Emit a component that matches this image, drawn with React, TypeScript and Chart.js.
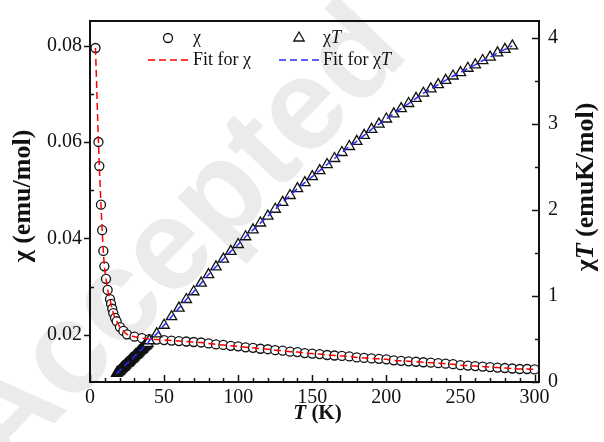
import React, { useEffect, useRef } from "react";
import { Chart, registerables } from "chart.js";
Chart.register(...registerables);

// ---------- data ----------
const chiTemps = [3.7, 5.7, 6.3, 7.4, 8.2, 9.0, 9.7, 10.8, 11.9, 13.5, 14.2, 15.0, 15.7, 16.9, 18.0, 20.2, 22.5,
  25, 30, 35, 40, 45, 50, 55, 60, 65, 70, 75, 80, 85, 90, 95, 100, 105, 110, 115, 120, 125, 130, 135, 140, 145,
  150, 155, 160, 165, 170, 175, 180, 185, 190, 195, 200, 205, 210, 215, 220, 225, 230, 235, 240, 245, 250, 255,
  260, 265, 270, 275, 280, 285, 290, 295, 300];
const chiValues = [0.0795, 0.0600, 0.0550, 0.0470, 0.0417, 0.0374, 0.0342, 0.0316, 0.0293, 0.0274, 0.0264, 0.0254,
  0.0245, 0.0235, 0.0228, 0.0216, 0.0208,
  0.0201, 0.0196, 0.0193, 0.0191, 0.0190, 0.0189, 0.0188, 0.0187, 0.0186, 0.0185, 0.0184, 0.0182, 0.0180, 0.0179,
  0.0177, 0.0176, 0.0174, 0.0173, 0.0171, 0.0170, 0.0168, 0.0167, 0.0165, 0.0164, 0.0162, 0.0161, 0.0160, 0.0158,
  0.0157, 0.0156, 0.0155, 0.0153, 0.0152, 0.0151, 0.0150, 0.0149, 0.0147, 0.0146, 0.0145, 0.0144, 0.0143, 0.0142,
  0.0141, 0.0140, 0.0139, 0.0137, 0.0136, 0.0135, 0.0134, 0.0133, 0.0132, 0.0131, 0.0130, 0.0129, 0.0129, 0.0128];

const chiTTemps = [18, 18.5, 19, 19.5, 20, 20.5, 21, 21.5, 22, 22.5, 23, 23.5, 24, 24.5, 25, 25.5, 26, 26.5, 27,
  27.5, 28, 28.5, 29, 29.5, 30, 30.5, 31, 31.5, 32, 32.5, 33, 33.5, 34, 34.5, 35, 35.5, 36, 36.5, 37, 37.5, 38,
  38.5, 39,
  40, 45, 50, 55, 60, 65, 70, 75, 80, 85, 90, 95, 100, 105, 110, 115, 120, 125, 130, 135, 140, 145, 150, 155, 160,
  165, 170, 175, 180, 185, 190, 195, 200, 205, 210, 215, 220, 225, 230, 235, 240, 245, 250, 255, 260, 265, 270,
  275, 280, 285];
const chiTValues = [0.10, 0.11, 0.12, 0.12, 0.13, 0.14, 0.15, 0.16, 0.17, 0.17, 0.18, 0.19, 0.20, 0.21, 0.22, 0.22,
  0.23, 0.24, 0.25, 0.26, 0.27, 0.27, 0.28, 0.29, 0.30, 0.31, 0.32, 0.32, 0.33, 0.34, 0.35, 0.36, 0.37, 0.37, 0.38,
  0.39, 0.40, 0.41, 0.42, 0.42, 0.43, 0.44, 0.45,
  0.48, 0.56, 0.66, 0.76, 0.86, 0.96, 1.05, 1.15, 1.25, 1.34, 1.43, 1.52, 1.60, 1.69, 1.77, 1.85, 1.93, 2.01, 2.09,
  2.17, 2.25, 2.32, 2.39, 2.46, 2.53, 2.60, 2.67, 2.74, 2.80, 2.87, 2.94, 3.00, 3.06, 3.12, 3.18, 3.24, 3.30, 3.36,
  3.41, 3.46, 3.51, 3.56, 3.60, 3.65, 3.69, 3.74, 3.78, 3.83, 3.87, 3.91];

const xTicks = [0, 50, 100, 150, 200, 250, 300];
const leftTicks = [0.02, 0.04, 0.06, 0.08];
const rightTicks = [0, 1, 2, 3, 4];

const X_MIN = 0, X_MAX = 303;
const L_MIN = 0.0102, L_MAX = 0.0851;
const R_MIN = 0, R_MAX = 4.2;

// ---------- styles ----------
const SERIF = "'Liberation Serif', 'Times New Roman', 'DejaVu Serif', serif";
const INK = "#111111";
const RED = "#ff0000";
const BLUE = "#2b2bff";

type Run = { text: string; italic?: boolean; bold?: boolean };

function drawRuns(ctx: CanvasRenderingContext2D, runs: Run[], x: number, y: number, align: "left" | "center", size: number) {
  const fonts = runs.map((r) => `${r.italic ? "italic " : "normal "}${r.bold ? "bold " : "normal "}${size}px ${SERIF}`);
  const widths = runs.map((r, i) => {
    ctx.font = fonts[i];
    return ctx.measureText(r.text).width;
  });
  const total = widths.reduce((a, b) => a + b, 0);
  let cx = align === "center" ? x - total / 2 : x;
  ctx.textAlign = "left";
  ctx.textBaseline = "middle";
  runs.forEach((r, i) => {
    ctx.font = fonts[i];
    ctx.fillText(r.text, cx, y);
    cx += widths[i];
  });
}

function triPath(ctx: CanvasRenderingContext2D, x: number, y: number, r: number) {
  ctx.beginPath();
  let a = 0;
  for (let i = 0; i < 3; i++) {
    const px = x + Math.sin(a) * r;
    const py = y - Math.cos(a) * r;
    if (i === 0) ctx.moveTo(px, py);
    else ctx.lineTo(px, py);
    a += (2 * Math.PI) / 3;
  }
  ctx.closePath();
}

const decorPlugin = {
  id: "decor",
  beforeDraw(chart: any) {
    const { ctx, width, height } = chart;
    ctx.save();
    ctx.fillStyle = "#ffffff";
    ctx.fillRect(0, 0, width, height);
    // watermark
    ctx.translate(182, 240);
    ctx.rotate((-46 * Math.PI) / 180);
    ctx.fillStyle = "#ebebeb";
    ctx.font = "bold 130px 'Liberation Sans', Arial, sans-serif";
    ctx.textAlign = "center";
    ctx.textBaseline = "middle";
    ctx.fillText("Accepted", 0, 0);
    ctx.restore();
  },
  afterDraw(chart: any) {
    const { ctx, chartArea } = chart;
    const { left, right, top, bottom } = chartArea;
    const xs = chart.scales.x;
    const yl = chart.scales.y;
    const yr = chart.scales.y1;
    ctx.save();
    ctx.strokeStyle = INK;
    ctx.fillStyle = INK;

    // ticks
    ctx.lineWidth = 1.5;
    ctx.beginPath();
    for (let v = 0; v <= 300; v += 10) {
      const p = Math.round(xs.getPixelForValue(v)) + 0.5;
      const len = v % 50 === 0 ? 7 : 4;
      ctx.moveTo(p, bottom);
      ctx.lineTo(p, bottom - len);
    }
    for (let k = 1; k <= 8; k++) {
      const v = k / 100;
      if (v < L_MIN || v > L_MAX) continue;
      const p = Math.round(yl.getPixelForValue(v)) + 0.5;
      if (k % 2 === 0) {
        ctx.moveTo(left - 6, p);
        ctx.lineTo(left, p);
      } else {
        ctx.moveTo(left, p);
        ctx.lineTo(left + 4, p);
      }
    }
    for (let k = 0; k <= 8; k++) {
      const v = k / 2;
      const p = Math.round(yr.getPixelForValue(v)) + 0.5;
      const len = k % 2 === 0 ? 7 : 4;
      ctx.moveTo(right, p);
      ctx.lineTo(right - len, p);
    }
    ctx.stroke();

    // frame
    ctx.lineWidth = 2;
    ctx.strokeRect(left, top, right - left, bottom - top);

    // axis titles
    drawRuns(ctx, [{ text: "T", italic: true, bold: true }, { text: " (K)", bold: true }], (left + right) / 2 + 3, 414, "center", 21);
    ctx.save();
    ctx.translate(23, 196);
    ctx.rotate(-Math.PI / 2);
    drawRuns(ctx, [{ text: "\u03c7 (emu/mol)", bold: true }], 0, 0, "center", 26);
    ctx.restore();
    ctx.save();
    ctx.translate(586, 187);
    ctx.rotate(-Math.PI / 2);
    drawRuns(ctx, [{ text: "\u03c7", bold: true }, { text: "T", bold: true, italic: true }, { text: " (emuK/mol)", bold: true }], 0, 0, "center", 26);
    ctx.restore();

    // legend
    ctx.lineWidth = 1.3;
    ctx.fillStyle = "#fff";
    ctx.beginPath();
    ctx.arc(168, 38, 4.5, 0, Math.PI * 2);
    ctx.fill();
    ctx.stroke();
    triPath(ctx, 299, 38, 6);
    ctx.fill();
    ctx.stroke();
    ctx.fillStyle = INK;
    drawRuns(ctx, [{ text: "\u03c7" }], 193, 38, "left", 18);
    drawRuns(ctx, [{ text: "\u03c7" }, { text: "T", italic: true }], 323, 38, "left", 18);
    ctx.lineWidth = 1.5;
    ctx.setLineDash([7, 4]);
    ctx.strokeStyle = RED;
    ctx.beginPath();
    ctx.moveTo(148, 60);
    ctx.lineTo(190, 60);
    ctx.stroke();
    ctx.strokeStyle = BLUE;
    ctx.beginPath();
    ctx.moveTo(279, 60);
    ctx.lineTo(321, 60);
    ctx.stroke();
    ctx.setLineDash([]);
    drawRuns(ctx, [{ text: "Fit for \u03c7" }], 193, 60, "left", 18);
    drawRuns(ctx, [{ text: "Fit for \u03c7" }, { text: "T", italic: true }], 323, 60, "left", 18);
    ctx.restore();
  },
};

export default function App() {
  const canvasRef = useRef<HTMLCanvasElement | null>(null);

  useEffect(() => {
    const canvas = canvasRef.current;
    if (!canvas) return;
    let chart: Chart | null = null;
    let cancelled = false;
    const chiPts = chiTemps.map((t, i) => ({ x: t, y: chiValues[i] }));
    const chiTPts = chiTTemps.map((t, i) => ({ x: t, y: chiTValues[i] }));
    const tickFont = { family: SERIF, size: 20, style: "normal" as const, weight: "normal" as const };

    const build = () => {
      if (cancelled) return;
      chart = new Chart(canvas, {
        type: "scatter",
        data: {
          datasets: [
            {
              label: "Fit for chi",
              data: chiPts,
              yAxisID: "y",
              showLine: true,
              borderColor: RED,
              borderWidth: 1.5,
              borderDash: [7, 4],
              pointRadius: 0,
              cubicInterpolationMode: "monotone",
              order: 0,
            },
            {
              label: "Fit for chiT",
              data: chiTPts,
              yAxisID: "y1",
              showLine: true,
              borderColor: BLUE,
              borderWidth: 1.5,
              borderDash: [7, 4],
              pointRadius: 0,
              cubicInterpolationMode: "monotone",
              order: 0,
            },
            {
              label: "chiT",
              data: chiTPts,
              yAxisID: "y1",
              showLine: false,
              pointStyle: "triangle",
              pointRadius: 6,
              pointBorderWidth: 1.3,
              pointBorderColor: INK,
              pointBackgroundColor: (c: any) => (chiTTemps[c.dataIndex] < 38.75 ? "rgba(0,0,0,0)" : "#ffffff"),
              order: 1,
            },
            {
              label: "chi",
              data: chiPts,
              yAxisID: "y",
              showLine: false,
              pointStyle: "circle",
              pointRadius: 4.5,
              pointBorderWidth: 1.3,
              pointBorderColor: INK,
              pointBackgroundColor: "#ffffff",
              order: 2,
            },
          ],
        },
        options: {
          responsive: false,
          animation: false,
          events: [],
          layout: { padding: { top: 15, left: 0, right: 0, bottom: 0 } },
          plugins: { legend: { display: false }, tooltip: { enabled: false }, title: { display: false } },
          scales: {
            x: {
              type: "linear",
              position: "bottom",
              min: X_MIN,
              max: X_MAX,
              grid: { display: false, drawTicks: false },
              border: { display: false },
              afterBuildTicks: (s: any) => {
                s.ticks = xTicks.map((v) => ({ value: v }));
              },
              afterFit: (s: any) => {
                s.height = 60;
              },
              ticks: { color: INK, font: tickFont, padding: 4, maxRotation: 0, autoSkip: false, callback: (v: any) => String(v) },
            },
            y: {
              type: "linear",
              position: "left",
              min: L_MIN,
              max: L_MAX,
              grid: { display: false, drawTicks: false },
              border: { display: false },
              afterBuildTicks: (s: any) => {
                s.ticks = leftTicks.map((v) => ({ value: v }));
              },
              afterFit: (s: any) => {
                s.width = 90;
              },
              ticks: { color: INK, font: tickFont, padding: 8, autoSkip: false, callback: (v: any) => Number(v).toFixed(2) },
            },
            y1: {
              type: "linear",
              position: "right",
              min: R_MIN,
              max: R_MAX,
              grid: { display: false, drawTicks: false },
              border: { display: false },
              afterBuildTicks: (s: any) => {
                s.ticks = rightTicks.map((v) => ({ value: v }));
              },
              afterFit: (s: any) => {
                s.width = 65;
              },
              ticks: { color: INK, font: tickFont, padding: 9, autoSkip: false, callback: (v: any) => String(v) },
            },
          },
        },
        plugins: [decorPlugin],
      });
    };

    const fontSpecs = [
      "18px 'Liberation Serif'",
      "20px 'Liberation Serif'",
      "italic 18px 'Liberation Serif'",
      "bold 20px 'Liberation Serif'",
      "italic bold 20px 'Liberation Serif'",
      "bold 130px 'Liberation Sans'",
    ];
    const fontsApi = (document as any).fonts;
    if (fontsApi && fontsApi.load) {
      Promise.all(fontSpecs.map((f) => fontsApi.load(f, "0.08χT"))).then(build, build);
    } else {
      build();
    }
    return () => {
      cancelled = true;
      if (chart) chart.destroy();
    };
  }, []);

  return (
    <div style={{ position: "absolute", left: 0, top: 0, width: 604, height: 442 }}>
      <canvas ref={canvasRef} width={604} height={442} style={{ display: "block" }} />
    </div>
  );
}
